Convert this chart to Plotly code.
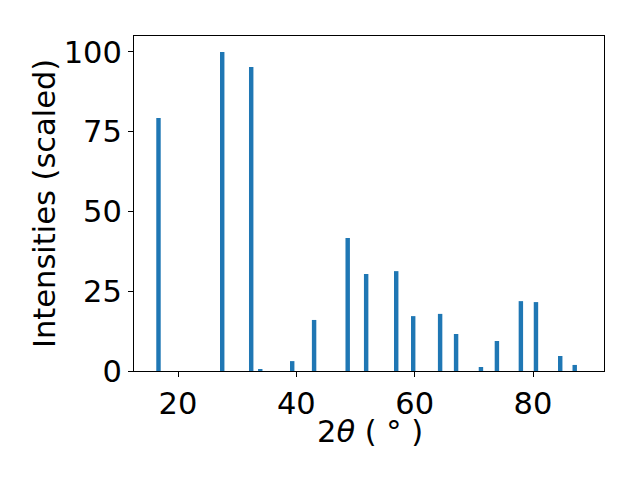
import plotly.graph_objects as go

two_theta = [16.7, 27.47, 32.37, 33.9, 39.3, 43.0, 48.68, 51.8, 56.88, 59.75,
             64.3, 67.0, 71.2, 73.9, 77.95, 80.5, 84.6, 87.05]
intensity = [79.3, 100.0, 95.3, 0.4, 3.1, 16.0, 41.7, 30.4, 31.3, 17.2,
             17.9, 11.6, 1.25, 9.4, 21.9, 21.6, 4.7, 1.9]
x_ticks = [20, 40, 60, 80]
y_ticks = [0, 25, 50, 75, 100]

fig = go.Figure(go.Bar(x=two_theta, y=intensity, width=0.75,
                       marker=dict(color="#1f77b4", line=dict(width=0))))

font = dict(family="DejaVu Sans", size=30.5, color="black")
axis_common = dict(ticks="outside", ticklen=5, tickwidth=1, tickcolor="black",
                   showline=True, linecolor="black", linewidth=1, mirror=True,
                   showgrid=False, zeroline=False, automargin=False,
                   tickfont=font)
fig.update_layout(
    width=640, height=480,
    margin=dict(l=126, r=44, t=28, b=117),
    paper_bgcolor="white", plot_bgcolor="white",
    font=font, showlegend=False,
    xaxis=dict(range=[12.56, 92.0], tickvals=x_ticks, **axis_common),
    yaxis=dict(range=[0, 105], tickvals=y_ticks, **axis_common),
    annotations=[
        dict(text="2<i>θ</i> ( ° )", xref="paper", yref="paper",
             x=0.5, y=0, xanchor="center", yanchor="middle", yshift=-60,
             xshift=1, showarrow=False, font=font),
        dict(text="Intensities (scaled)", xref="paper", yref="paper",
             x=0, y=0.5, xanchor="center", yanchor="middle", xshift=-89.5,
             textangle=-90, showarrow=False, font=font),
    ],
)
fig.write_html("out.html")
